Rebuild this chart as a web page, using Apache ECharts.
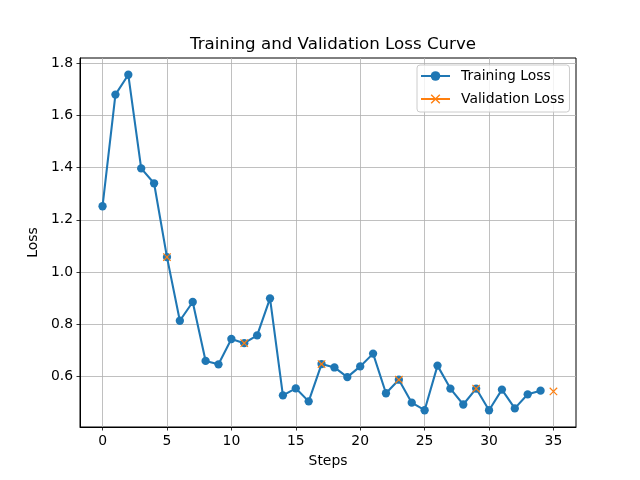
<!DOCTYPE html>
<html>
<head>
<meta charset="utf-8">
<script src="https://cdn.jsdelivr.net/npm/echarts@6/dist/echarts.min.js"></script>
<style>html,body{margin:0;padding:0;background:#fff}#c{width:640px;height:480px}</style>
</head>
<body>
<div id="c"></div>
<script>
const steps = [0,1,2,3,4,5,6,7,8,9,10,11,12,13,14,15,16,17,18,19,20,21,22,23,24,25,26,27,28,29,30,31,32,33,34];
const trainLoss = [1.252,1.680,1.756,1.397,1.340,1.057,0.813,0.885,0.659,0.646,0.743,0.727,0.757,0.899,0.527,0.554,0.504,0.647,0.634,0.597,0.638,0.687,0.535,0.587,0.499,0.470,0.641,0.553,0.492,0.553,0.470,0.549,0.477,0.531,0.545];
const valSteps = [5,11,17,23,29,35];
const valLoss = [1.057,0.727,0.647,0.587,0.553,0.542];
const xTicks = [0,5,10,15,20,25,30,35];
const yTicks = [0.6,0.8,1.0,1.2,1.4,1.6,1.8];

const FONT = 'DejaVu Sans';
const xMin = -1.75, xMax = 36.75;
const yMin = 0.4057, yMax = 1.8203;
const xPath = 'path://M1,0 L5,4 L9,0 L10,1 L6,5 L10,9 L9,10 L5,6 L1,10 L0,9 L4,5 L0,1 Z';

const chart = echarts.init(document.getElementById('c'), null, {renderer: 'canvas'});
chart.setOption({
  animation: false,
  backgroundColor: '#ffffff',
  title: {
    text: 'Training and Validation Loss Curve',
    left: 328, top: 31, textAlign: 'center',
    textStyle: {fontFamily: FONT, fontSize: 16.67, fontWeight: 'normal', color: '#000'}
  },
  legend: {
    orient: 'vertical',
    left: 417, top: 65,
    padding: [4, 5, 6, 3],
    itemWidth: 29, itemHeight: 12, itemGap: 9,
    backgroundColor: 'rgba(255,255,255,0.8)',
    borderColor: '#cccccc', borderWidth: 1, borderRadius: 3,
    textStyle: {fontFamily: FONT, fontSize: 13.9, color: '#000', padding: [0,0,0,6]},
    data: ['Training Loss', 'Validation Loss']
  },
  grid: {
    left: 80, right: 64, top: 58, bottom: 53,
    show: true, borderColor: '#000', borderWidth: 1, backgroundColor: 'transparent'
  },
  xAxis: {
    type: 'value', min: xMin, max: xMax,
    name: 'Steps', nameLocation: 'middle', nameGap: 27,
    nameTextStyle: {fontFamily: FONT, fontSize: 13.9, color: '#000'},
    axisLine: {show: true, onZero: false, lineStyle: {color: '#000', width: 1}},
    axisTick: {show: true, length: 3.5, lineStyle: {color: '#000', width: 0.8}, customValues: xTicks},
    axisLabel: {fontFamily: FONT, fontSize: 13.9, color: '#000', margin: 7, customValues: xTicks},
    splitLine: {show: true, lineStyle: {color: '#b0b0b0', width: 0.8}}
  },
  yAxis: {
    type: 'value', min: yMin, max: yMax,
    name: 'Loss', nameLocation: 'middle', nameGap: 40,
    nameTextStyle: {fontFamily: FONT, fontSize: 13.9, color: '#000'},
    axisLine: {show: true, onZero: false, lineStyle: {color: '#000', width: 1}},
    axisTick: {show: true, length: 3.5, lineStyle: {color: '#000', width: 0.8}, customValues: yTicks},
    axisLabel: {fontFamily: FONT, fontSize: 13.9, color: '#000', margin: 7, customValues: yTicks,
      formatter: v => v.toFixed(1)},
    splitLine: {show: true, lineStyle: {color: '#b0b0b0', width: 0.8}}
  },
  series: [
    {
      name: 'Training Loss', type: 'line',
      data: steps.map((s, i) => [s, trainLoss[i]]),
      symbol: 'circle', symbolSize: 8.3,
      lineStyle: {color: '#1f77b4', width: 2.08},
      itemStyle: {color: '#1f77b4'},
      z: 2
    },
    {
      name: 'Validation Loss', type: 'line',
      data: valSteps.map((s, i) => [s, valLoss[i]]).reduce((acc, p, i) => { if (i) acc.push([p[0] - 0.5, null]); acc.push(p); return acc; }, []),
      connectNulls: false,
      symbol: xPath, symbolSize: 8.3,
      lineStyle: {color: '#ff7f0e', width: 2.08},
      itemStyle: {color: '#ff7f0e'},
      z: 3
    }
  ]
});
</script>
</body>
</html>
